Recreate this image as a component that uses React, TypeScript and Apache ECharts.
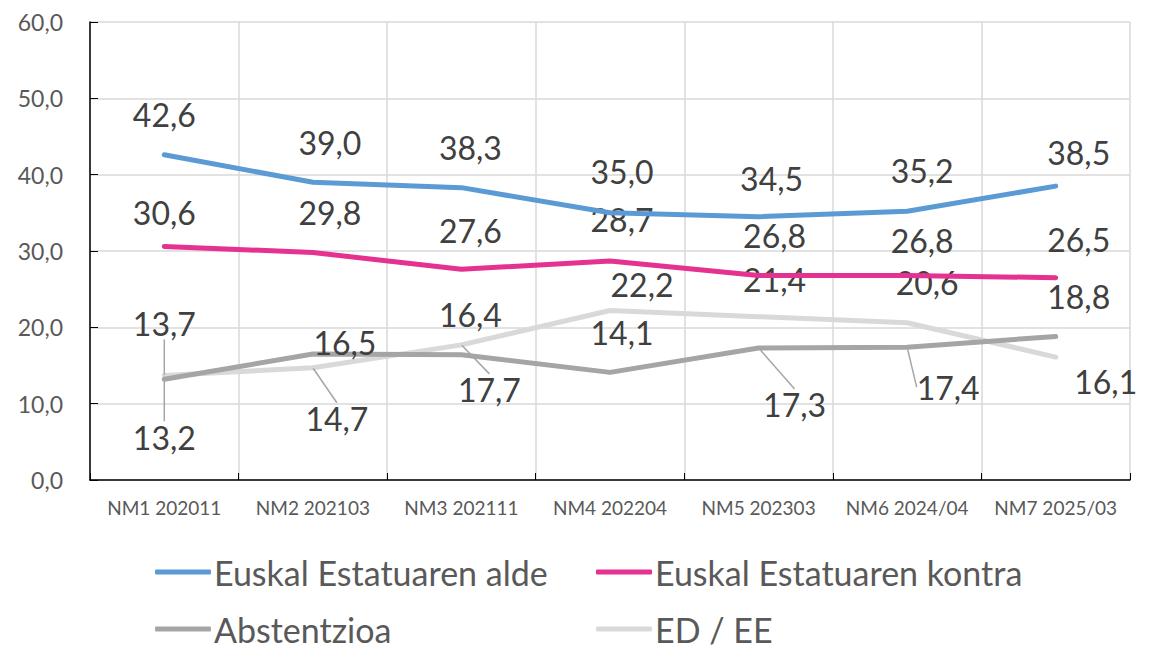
import React, { useEffect, useRef } from "react";
import * as echarts from "echarts";

const categories = ["NM1 202011", "NM2 202103", "NM3 202111", "NM4 202204", "NM5 202303", "NM6 2024/04", "NM7 2025/03"];
const seriesNames = ["Euskal Estatuaren alde", "Euskal Estatuaren kontra", "Abstentzioa", "ED / EE"];
const aldeValues = [42.6, 39.0, 38.3, 35.0, 34.5, 35.2, 38.5];
const kontraValues = [30.6, 29.8, 27.6, 28.7, 26.8, 26.8, 26.5];
const abstentzioaValues = [13.2, 16.5, 16.4, 14.1, 17.3, 17.4, 18.8];
const edeeValues = [13.7, 14.7, 17.7, 22.2, 21.4, 20.6, 16.1];

const colors = ["#5B9BD5", "#E5318F", "#A5A5A5", "#D9D9D9"];

// label offsets (dx, dy) in pixels relative to the point
const labelOffsets: number[][][] = [
  [[0, -40], [17, -40], [9, -40], [12, -41], [13, -38], [15, -41], [23, -34]],
  [[0, -34], [17, -40], [9, -39], [12, -41], [16, -40], [15, -35], [23, -38]],
  [[0, 58], [32, -12], [9, -40], [12, -40], [36, 57], [41, 40], [23, -40]],
  [[0, -52], [24, 51], [28, 45], [32, -26], [16, -37], [20, -40], [50, 24]],
];
const leaderLines: number[][] = [
  [2, 0], [2, 4], [2, 5], [3, 0], [3, 1], [3, 2],
];
// legend placement: [left, top]
const legendPlaces: number[][] = [[155, 555], [596, 555], [155, 612], [596, 612]];

const fontFamily = "Lato, 'Open Sans', sans-serif";

export default function App() {
  const ref = useRef<HTMLDivElement>(null);
  useEffect(() => {
    if (!ref.current) return;
    const chart = echarts.init(ref.current, undefined, { renderer: "svg" });
    const allValues = [aldeValues, kontraValues, abstentzioaValues, edeeValues];
    const fmt = (v: number) => v.toFixed(1).replace(".", ",");
    const series = allValues.map((vals, si) => ({
      name: seriesNames[si],
      type: "line",
      symbol: "circle",
      symbolSize: 1,
      showSymbol: true,
      z: 10 - si,
      lineStyle: { color: colors[si], width: 5, cap: "round", join: "round" },
      itemStyle: { color: colors[si] },
      label: {
        show: true,
        position: "inside",
        formatter: (p: any) => fmt(p.value),
        color: "#404040",
        fontSize: 32,
        fontFamily,
      },
      labelLine: { show: false, lineStyle: { color: "#A6A6A6", width: 1.5 } },
      labelLayout: (p: any) => {
        const off = labelOffsets[si][p.dataIndex];
        const cx = p.rect.x + p.rect.width / 2;
        const cy = p.rect.y + p.rect.height / 2;
        return { x: cx + off[0], y: cy + off[1], align: "center", verticalAlign: "middle" };
      },
      data: vals.map((v, di) => {
        const hasLine = leaderLines.some((l) => l[0] === si && l[1] === di);
        return hasLine
          ? { value: v, labelLine: { show: true, lineStyle: { color: "#A6A6A6", width: 1.5 } } }
          : { value: v };
      }),
    }));
    const legends = seriesNames.map((name, i) => ({
      data: [name],
      left: legendPlaces[i][0],
      top: legendPlaces[i][1],
      padding: 0,
      icon: "roundRect",
      itemWidth: 56,
      itemHeight: 5,
      textStyle: { color: "#595959", fontSize: 34, lineHeight: 34, fontFamily, padding: [0, 0, 0, -2] },
    }));
    chart.setOption({
      animation: false,
      backgroundColor: "#FFFFFF",
      grid: { left: 90, right: 25, top: 22, bottom: 168 },
      legend: legends,
      xAxis: {
        type: "category",
        data: categories,
        boundaryGap: true,
        axisLine: { lineStyle: { color: "#000000", width: 1.5 } },
        axisTick: { show: true, inside: true, length: 7, interval: 0, alignWithLabel: false, lineStyle: { color: "#000000" } },
        splitLine: { show: true, interval: 0, lineStyle: { color: "#D9D9D9", width: 1.5 } },
        axisLabel: { color: "#595959", fontSize: 19, fontFamily, margin: 18, interval: 0, hideOverlap: false },
      },
      yAxis: {
        type: "value",
        min: 0,
        max: 60,
        interval: 10,
        axisLine: { show: true, lineStyle: { color: "#000000", width: 1.5 } },
        axisTick: { show: true, inside: true, length: 8, lineStyle: { color: "#000000" } },
        splitLine: { show: true, lineStyle: { color: "#D9D9D9", width: 1.5 } },
        axisLabel: { color: "#595959", fontSize: 23, fontFamily, margin: 27, formatter: (v: number) => fmt(v) },
      },
      series,
    });
    return () => chart.dispose();
  }, []);
  return <div ref={ref} style={{ width: 1155, height: 648, position: "absolute", left: 0, top: 0 }} />;
}
